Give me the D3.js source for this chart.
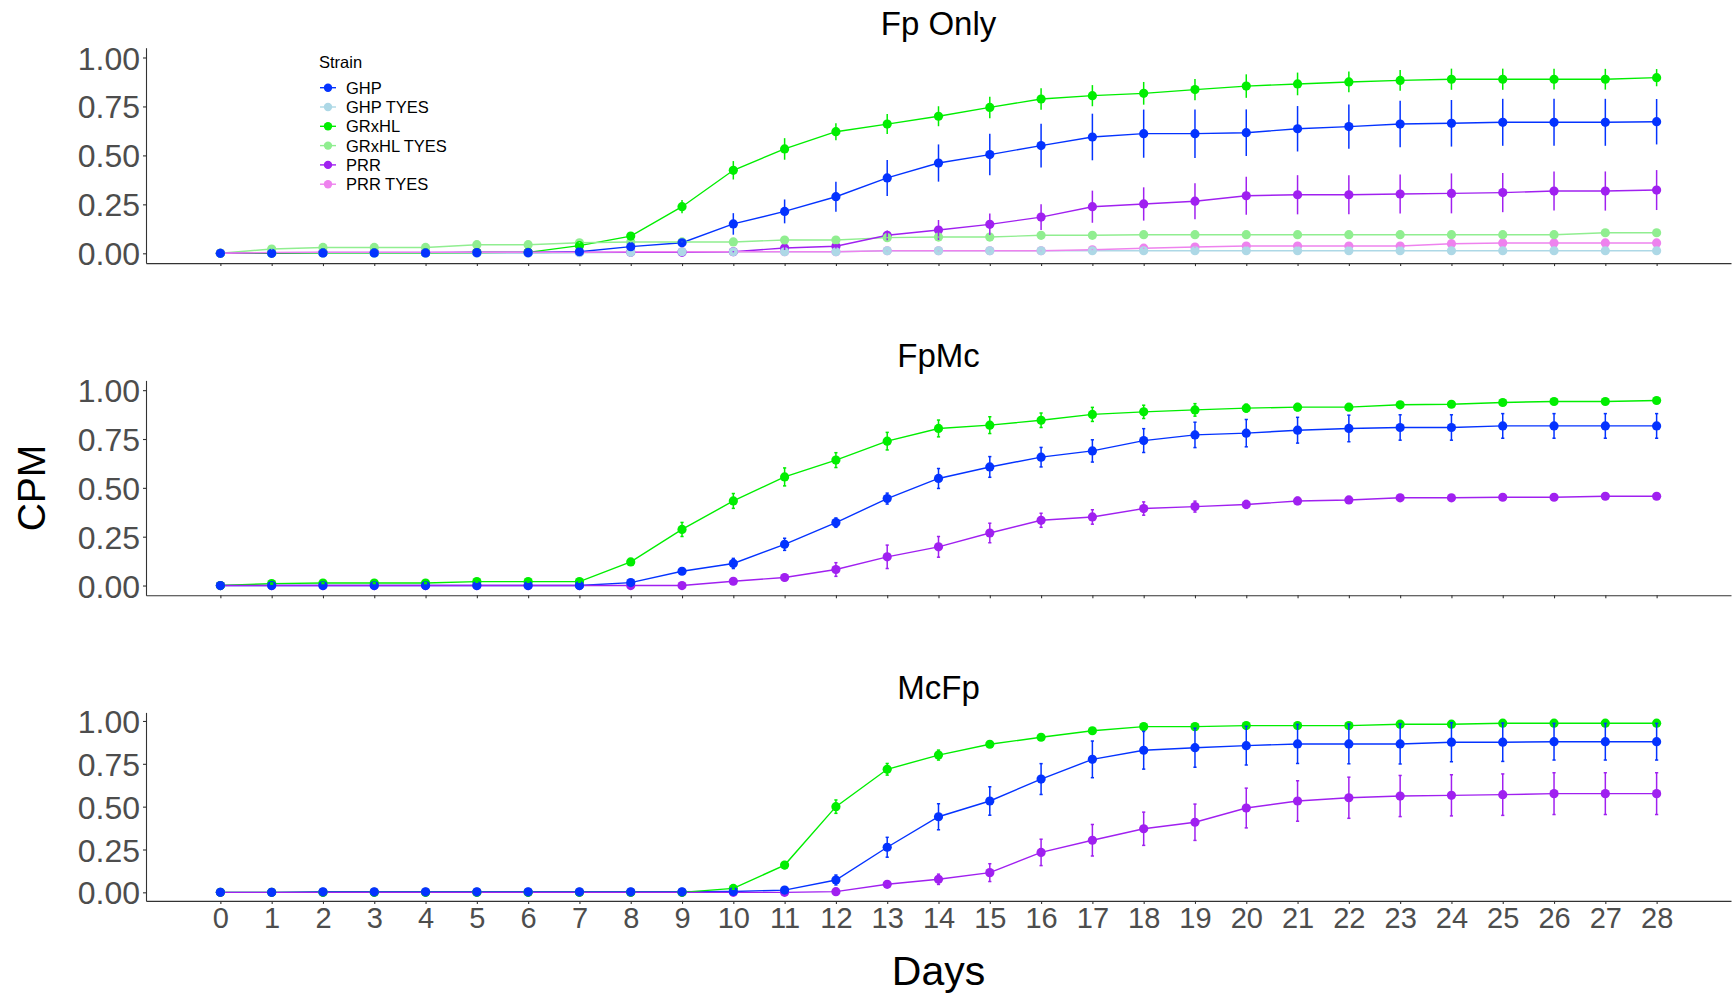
<!DOCTYPE html>
<html>
<head>
<meta charset="utf-8">
<script src="https://cdn.jsdelivr.net/npm/d3@7"></script>
<style>
  html, body { margin: 0; padding: 0; background: #fff; }
  svg { display: block; font-family: "Liberation Sans", Arial, sans-serif; }
</style>
</head>
<body>
<svg id="chart" width="1734" height="996"></svg>
<script>
// Days of sampling
const days = d3.range(0, 29);

// Strains and their colours
const strains = ["GHP", "GHP TYES", "GRxHL", "GRxHL TYES", "PRR", "PRR TYES"];
const strainColors = ["#0433FF", "#ADD8E6", "#00EE00", "#90EE90", "#A020F0", "#EE82EE"];

// Panel titles
const panelTitles = ["Fp Only", "FpMc", "McFp"];

// Fp Only: mean CPM and error per strain
const fpOnlyGHP = [0, 0, 0.002, 0.002, 0.002, 0.003, 0.003, 0.008, 0.034, 0.054, 0.15, 0.214, 0.289, 0.385, 0.461, 0.504, 0.55, 0.594, 0.611, 0.611, 0.616, 0.636, 0.647, 0.66, 0.664, 0.669, 0.669, 0.669, 0.672];
const fpOnlyGHPErr = [0, 0, 0, 0, 0, 0, 0, 0.005, 0.01, 0.01, 0.055, 0.061, 0.077, 0.092, 0.095, 0.106, 0.112, 0.119, 0.123, 0.124, 0.119, 0.116, 0.113, 0.119, 0.119, 0.12, 0.12, 0.12, 0.116];
const fpOnlyGHPTyes = [0, 0, 0, 0, 0, 0, 0, 0.003, 0.005, 0.008, 0.008, 0.008, 0.008, 0.013, 0.013, 0.013, 0.013, 0.013, 0.013, 0.013, 0.013, 0.013, 0.013, 0.013, 0.013, 0.013, 0.013, 0.013, 0.013];
const fpOnlyGHPTyesErr = [0, 0, 0, 0, 0, 0, 0, 0, 0, 0, 0, 0, 0, 0.002, 0.002, 0.002, 0.002, 0.002, 0.002, 0.002, 0.002, 0.002, 0.002, 0.002, 0.002, 0.002, 0.002, 0.002, 0.002];
const fpOnlyGRxHL = [0, 0, 0.002, 0.002, 0.002, 0.004, 0.005, 0.039, 0.088, 0.238, 0.424, 0.533, 0.621, 0.66, 0.70, 0.745, 0.788, 0.805, 0.817, 0.836, 0.854, 0.865, 0.875, 0.883, 0.889, 0.889, 0.889, 0.889, 0.897];
const fpOnlyGRxHLErr = [0, 0, 0, 0, 0, 0, 0, 0.01, 0.01, 0.034, 0.047, 0.055, 0.043, 0.051, 0.051, 0.055, 0.055, 0.054, 0.058, 0.054, 0.06, 0.058, 0.053, 0.053, 0.054, 0.054, 0.053, 0.053, 0.044];
const fpOnlyGRxHLTyes = [0, 0.022, 0.03, 0.03, 0.03, 0.044, 0.044, 0.054, 0.058, 0.058, 0.058, 0.068, 0.068, 0.08, 0.083, 0.083, 0.092, 0.092, 0.095, 0.095, 0.095, 0.095, 0.095, 0.095, 0.095, 0.095, 0.095, 0.105, 0.105];
const fpOnlyGRxHLTyesErr = [0, 0.003, 0.003, 0.003, 0.003, 0.003, 0.003, 0.003, 0.003, 0.003, 0.003, 0.003, 0.003, 0.003, 0.003, 0.003, 0.003, 0.003, 0.003, 0.003, 0.003, 0.003, 0.003, 0.003, 0.003, 0.003, 0.003, 0.003, 0.003];
const fpOnlyPRR = [0, 0.003, 0.005, 0.005, 0.005, 0.006, 0.006, 0.006, 0.005, 0.005, 0.008, 0.027, 0.036, 0.092, 0.119, 0.148, 0.185, 0.238, 0.252, 0.266, 0.294, 0.299, 0.299, 0.303, 0.306, 0.31, 0.318, 0.318, 0.323];
const fpOnlyPRRErr = [0, 0, 0, 0, 0, 0, 0, 0, 0, 0, 0.003, 0.01, 0.012, 0.025, 0.051, 0.055, 0.066, 0.082, 0.085, 0.092, 0.097, 0.1, 0.1, 0.1, 0.102, 0.1, 0.1, 0.1, 0.102];
const fpOnlyPRRTyes = [0, 0.005, 0.005, 0.005, 0.005, 0.005, 0.005, 0.005, 0.008, 0.008, 0.008, 0.008, 0.008, 0.013, 0.013, 0.013, 0.013, 0.018, 0.026, 0.032, 0.037, 0.037, 0.037, 0.037, 0.049, 0.053, 0.053, 0.053, 0.053];
const fpOnlyPRRTyesErr = [0, 0, 0, 0, 0, 0, 0, 0, 0, 0, 0, 0, 0, 0.003, 0.003, 0.003, 0.003, 0.003, 0.003, 0.003, 0.003, 0.003, 0.003, 0.003, 0.003, 0.003, 0.003, 0.003, 0.003];

// FpMc
const fpMcGHP = [0, 0, 0, 0, 0, 0, 0, 0, 0.015, 0.073, 0.113, 0.211, 0.322, 0.445, 0.548, 0.607, 0.657, 0.689, 0.742, 0.771, 0.78, 0.795, 0.804, 0.809, 0.809, 0.817, 0.817, 0.817, 0.817];
const fpMcGHPErr = [0, 0, 0, 0, 0, 0, 0, 0, 0.005, 0.01, 0.026, 0.031, 0.024, 0.028, 0.051, 0.053, 0.05, 0.057, 0.061, 0.065, 0.07, 0.066, 0.068, 0.065, 0.065, 0.063, 0.063, 0.063, 0.063];
const fpMcGRxHL = [0, 0.01, 0.013, 0.013, 0.013, 0.02, 0.02, 0.02, 0.121, 0.287, 0.433, 0.556, 0.642, 0.739, 0.804, 0.821, 0.846, 0.876, 0.889, 0.899, 0.908, 0.913, 0.913, 0.925, 0.928, 0.937, 0.942, 0.942, 0.947];
const fpMcGRxHLErr = [0, 0.003, 0.003, 0.003, 0.003, 0.003, 0.003, 0.003, 0.015, 0.036, 0.038, 0.046, 0.038, 0.045, 0.043, 0.043, 0.037, 0.036, 0.034, 0.032, 0.02, 0.018, 0.015, 0.012, 0.01, 0.008, 0.008, 0.008, 0.005];
const fpMcPRR = [0, 0, 0, 0, 0, 0, 0, 0, 0, 0, 0.022, 0.041, 0.082, 0.147, 0.198, 0.269, 0.334, 0.351, 0.394, 0.404, 0.415, 0.433, 0.438, 0.449, 0.449, 0.452, 0.452, 0.457, 0.457];
const fpMcPRRErr = [0, 0, 0, 0, 0, 0, 0, 0, 0, 0, 0.005, 0.015, 0.035, 0.06, 0.053, 0.05, 0.036, 0.037, 0.034, 0.028, 0.02, 0.018, 0.016, 0.016, 0.015, 0.015, 0.015, 0.015, 0.015];

// McFp
const mcFpGHP = [0, 0, 0.003, 0.003, 0.003, 0.003, 0.003, 0.003, 0.003, 0.003, 0.005, 0.013, 0.072, 0.263, 0.441, 0.533, 0.661, 0.776, 0.829, 0.844, 0.856, 0.866, 0.866, 0.866, 0.876, 0.876, 0.879, 0.879, 0.879];
const mcFpGHPErr = [0, 0, 0, 0, 0, 0, 0, 0, 0, 0, 0, 0.005, 0.029, 0.058, 0.076, 0.083, 0.09, 0.107, 0.11, 0.114, 0.113, 0.114, 0.116, 0.117, 0.114, 0.112, 0.107, 0.107, 0.107];
const mcFpGRxHL = [0, 0, 0, 0, 0, 0, 0, 0, 0, 0, 0.023, 0.159, 0.5, 0.718, 0.801, 0.864, 0.905, 0.943, 0.967, 0.967, 0.973, 0.973, 0.973, 0.981, 0.981, 0.987, 0.987, 0.987, 0.987];
const mcFpGRxHLErr = [0, 0, 0, 0, 0, 0, 0, 0, 0, 0, 0.005, 0.02, 0.039, 0.034, 0.029, 0.015, 0.01, 0.008, 0.008, 0.008, 0.008, 0.008, 0.008, 0.008, 0.008, 0.008, 0.008, 0.008, 0.008];
const mcFpPRR = [0, 0, 0, 0, 0, 0, 0, 0, 0, 0, 0, 0, 0.004, 0.047, 0.076, 0.115, 0.233, 0.304, 0.371, 0.409, 0.492, 0.533, 0.552, 0.562, 0.566, 0.57, 0.576, 0.576, 0.576];
const mcFpPRRErr = [0, 0, 0, 0, 0, 0, 0, 0, 0, 0, 0, 0, 0.005, 0.015, 0.03, 0.052, 0.077, 0.092, 0.097, 0.106, 0.116, 0.118, 0.12, 0.12, 0.12, 0.121, 0.122, 0.122, 0.122];

// CPM ticks
const yTicks = [0, 0.25, 0.5, 0.75, 1.0];

// Series grouped per panel
const panelSeries = [
  [
    { strain: "GHP", values: fpOnlyGHP, err: fpOnlyGHPErr },
    { strain: "GHP TYES", values: fpOnlyGHPTyes, err: fpOnlyGHPTyesErr },
    { strain: "GRxHL", values: fpOnlyGRxHL, err: fpOnlyGRxHLErr },
    { strain: "GRxHL TYES", values: fpOnlyGRxHLTyes, err: fpOnlyGRxHLTyesErr },
    { strain: "PRR", values: fpOnlyPRR, err: fpOnlyPRRErr },
    { strain: "PRR TYES", values: fpOnlyPRRTyes, err: fpOnlyPRRTyesErr }
  ],
  [
    { strain: "GHP", values: fpMcGHP, err: fpMcGHPErr },
    { strain: "GRxHL", values: fpMcGRxHL, err: fpMcGRxHLErr },
    { strain: "PRR", values: fpMcPRR, err: fpMcPRRErr }
  ],
  [
    { strain: "GHP", values: mcFpGHP, err: mcFpGHPErr },
    { strain: "GRxHL", values: mcFpGRxHL, err: mcFpGRxHLErr },
    { strain: "PRR", values: mcFpPRR, err: mcFpPRRErr }
  ]
];

// Layout of the three stacked panels
const plotLeft = 146, plotRight = 1731;
const panelLayout = [
  { top: 47.7, bottom: 263.1, titleY: 35, cap: 0 },
  { top: 380.4, bottom: 595.3, titleY: 367, cap: 1.6 },
  { top: 712.4, bottom: 900.9, titleY: 699, cap: 1.6 }
];

const svg = d3.select("#chart");
const color = d3.scaleOrdinal().domain(strains).range(strainColors);
const x = d3.scaleLinear().domain([-1.45, 29.45]).range([plotLeft, plotRight]);

panelSeries.forEach((seriesList, pi) => {
  const L = panelLayout[pi];
  const y = d3.scaleLinear().domain([-0.05, 1.05]).range([L.bottom, L.top]);
  const g = svg.append("g");

  // title
  g.append("text")
    .attr("x", (plotLeft + plotRight) / 2)
    .attr("y", L.titleY)
    .attr("text-anchor", "middle")
    .attr("font-size", 33)
    .attr("fill", "#000")
    .text(panelTitles[pi]);

  // y axis
  const yAxis = g.append("g")
    .attr("transform", `translate(${plotLeft},0)`)
    .call(d3.axisLeft(y).tickValues(yTicks).tickFormat(d3.format(".2f")).tickSize(3).tickSizeOuter(0).tickPadding(3));
  yAxis.select(".domain").attr("stroke", "#333").attr("stroke-width", 1.1);
  yAxis.selectAll(".tick line").attr("stroke", "#333").attr("stroke-width", 1.1);
  yAxis.selectAll(".tick text").attr("font-size", 32).attr("fill", "#4D4D4D")
    .attr("font-family", "'Liberation Sans', Arial, sans-serif").attr("dy", "0.36em");

  // x axis
  const xAxis = g.append("g")
    .attr("transform", `translate(0,${L.bottom})`)
    .call(d3.axisBottom(x).tickValues(days).tickFormat(pi === 2 ? d3.format("d") : () => "").tickSize(3).tickSizeOuter(0).tickPadding(4));
  xAxis.select(".domain").attr("stroke", "#333").attr("stroke-width", 1.1);
  xAxis.selectAll(".tick line").attr("stroke", "#333").attr("stroke-width", 1.1);
  xAxis.selectAll(".tick text").attr("font-size", 29).attr("fill", "#4D4D4D")
    .attr("font-family", "'Liberation Sans', Arial, sans-serif");

  const line = d3.line().x((d, i) => x(days[i])).y(d => y(d));

  // lines
  g.append("g").selectAll("path").data(seriesList).join("path")
    .attr("d", s => line(s.values))
    .attr("fill", "none")
    .attr("stroke", s => color(s.strain))
    .attr("stroke-width", 1.4);

  // points (first strain drawn last so it sits on top)
  const rev = seriesList.slice().reverse();
  rev.forEach(s => {
    g.append("g").selectAll("circle").data(s.values).join("circle")
      .attr("cx", (d, i) => x(days[i]))
      .attr("cy", d => y(d))
      .attr("r", 4.6)
      .attr("fill", color(s.strain));
  });

  // error bars
  rev.forEach(s => {
    const eg = g.append("g").attr("stroke", color(s.strain)).attr("stroke-width", 1.5).attr("fill", "none");
    s.values.forEach((v, i) => {
      const e = s.err[i];
      if (!e) return;
      const cx = x(days[i]);
      eg.append("line").attr("x1", cx).attr("x2", cx).attr("y1", y(v - e)).attr("y2", y(v + e));
      if (L.cap > 0) {
        eg.append("line").attr("x1", cx - L.cap).attr("x2", cx + L.cap).attr("y1", y(v - e)).attr("y2", y(v - e));
        eg.append("line").attr("x1", cx - L.cap).attr("x2", cx + L.cap).attr("y1", y(v + e)).attr("y2", y(v + e));
      }
    });
  });
});

// axis titles
svg.append("text")
  .attr("x", (plotLeft + plotRight) / 2)
  .attr("y", 985)
  .attr("text-anchor", "middle")
  .attr("font-size", 41)
  .attr("fill", "#000")
  .text("Days");

svg.append("text")
  .attr("transform", "translate(45,488) rotate(-90)")
  .attr("text-anchor", "middle")
  .attr("font-size", 39)
  .attr("fill", "#000")
  .text("CPM");

// legend
const legend = svg.append("g");
legend.append("text")
  .attr("x", 319).attr("y", 67.5)
  .attr("font-size", 16.5).attr("fill", "#000")
  .text("Strain");
const items = legend.selectAll("g.item").data(strains).join("g")
  .attr("class", "item")
  .attr("transform", (d, i) => `translate(0,${87.7 + i * 19.3})`);
items.append("line")
  .attr("x1", 320).attr("x2", 336).attr("y1", 0).attr("y2", 0)
  .attr("stroke", d => color(d)).attr("stroke-width", 1.4);
items.append("circle")
  .attr("cx", 328).attr("cy", 0).attr("r", 4.2)
  .attr("fill", d => color(d));
items.append("text")
  .attr("x", 346).attr("y", 0).attr("dy", "0.36em")
  .attr("font-size", 16.5).attr("fill", "#000")
  .text(d => d);
</script>
</body>
</html>
